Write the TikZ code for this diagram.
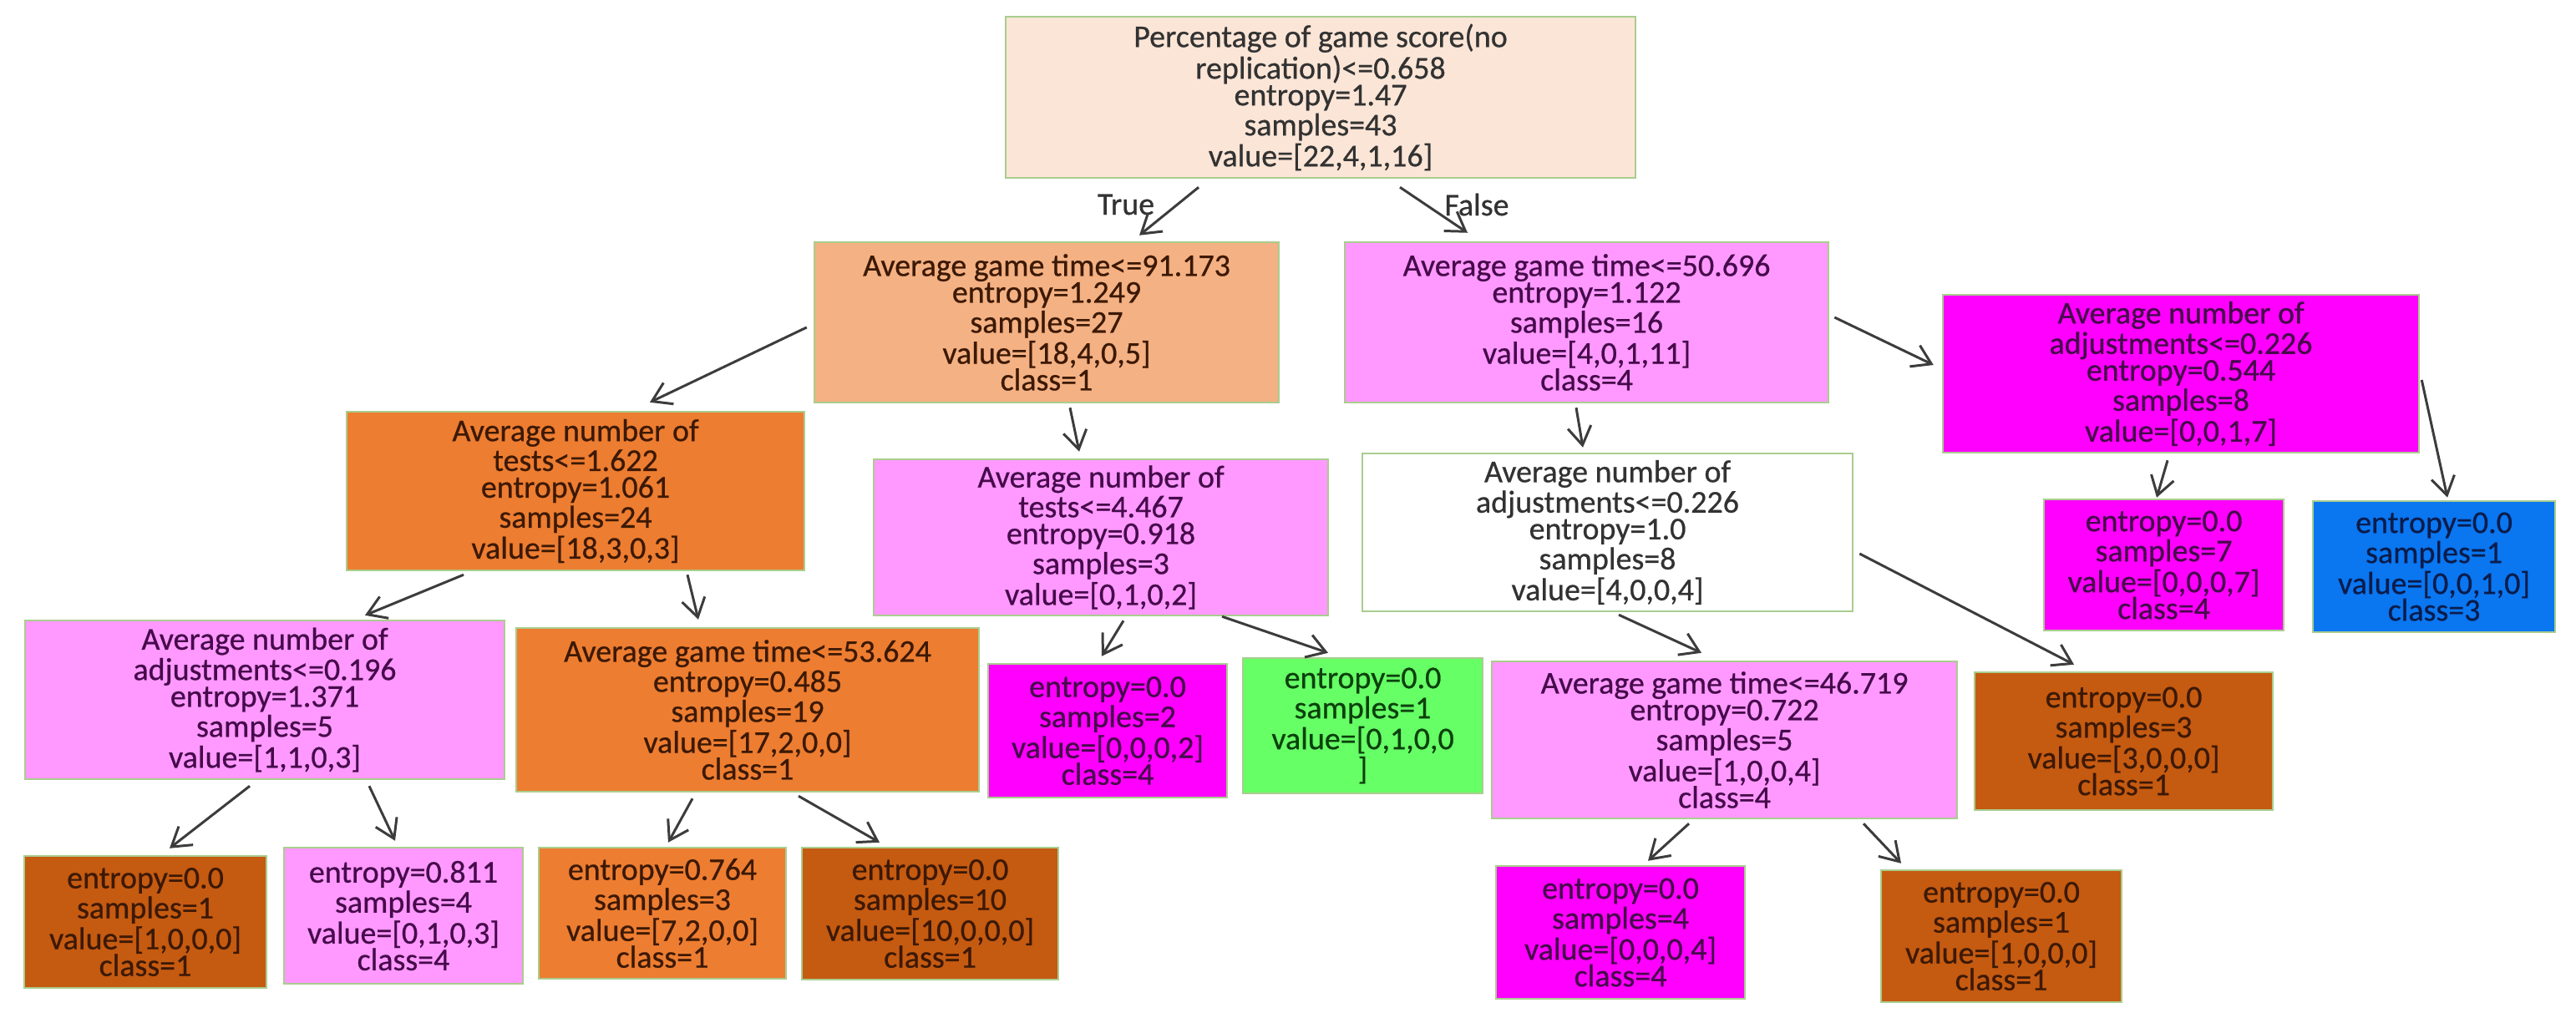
\documentclass[tikz,border=0pt]{standalone}
\usepackage{fontspec}
\setmainfont{Carlito}
\newfontfamily\boxfont{Carlito}[FakeBold=0.6]
\usetikzlibrary{arrows.meta}
\definecolor{bordergreen}{RGB}{169,205,142}
\definecolor{cpeach}{RGB}{251,229,214}
\definecolor{clorange}{RGB}{244,177,131}
\definecolor{corange}{RGB}{237,125,49}
\definecolor{cbrown}{RGB}{197,90,17}
\definecolor{cpink}{RGB}{255,153,255}
\definecolor{cmagenta}{RGB}{255,0,255}
\definecolor{cgreen}{RGB}{102,255,102}
\definecolor{cblue}{RGB}{10,118,240}
\definecolor{tgray}{RGB}{50,50,50}
\definecolor{tbrown}{RGB}{60,25,5}
\definecolor{tpurple}{RGB}{70,10,75}
\definecolor{tgreen}{RGB}{12,65,12}
\definecolor{tnavy}{RGB}{10,28,75}
\definecolor{arrowgray}{RGB}{60,60,60}
\tikzset{
  box/.style={draw=bordergreen, line width=0.7pt, rectangle, inner sep=0pt,
    align=center, font=\boxfont\fontsize{10.8pt}{9.1pt}\selectfont},
  peachbox/.style={box, fill=cpeach, text=tgray},
  lorangebox/.style={box, fill=clorange, text=tbrown},
  orangebox/.style={box, fill=corange, text=tbrown},
  brownbox/.style={box, fill=cbrown, text=tbrown},
  pinkbox/.style={box, fill=cpink, text=tpurple},
  magbox/.style={box, fill=cmagenta, text=tpurple},
  greenbox/.style={box, fill=cgreen, text=tgreen},
  bluebox/.style={box, fill=cblue, text=tnavy},
  whitebox/.style={box, fill=white, text=tgray},
  arr/.style={draw=arrowgray, line width=0.85pt,
    -{Straight Barb[length=2.2mm,width=2.8mm,line width=0.85pt]}},
  lbl/.style={font=\boxfont\fontsize{10.8pt}{9.1pt}\selectfont, text=tgray, inner sep=0pt}
}
\begin{document}
\begin{tikzpicture}
\useasboundingbox[fill=white] (0,0) rectangle (30.84,-12.24);

% level 0
\node[peachbox, minimum width=7.54cm, minimum height=1.93cm] (root) at (15.81,-1.165)
 {Percentage of game score(no\\replication)<=0.658\\entropy=1.47\\samples=43\\value=[22,4,1,16]};

% level 1
\node[lorangebox, minimum width=5.56cm, minimum height=1.92cm] (l1a) at (12.53,-3.86)
 {Average game time<=91.173\\entropy=1.249\\samples=27\\value=[18,4,0,5]\\class=1};
\node[pinkbox, minimum width=5.79cm, minimum height=1.92cm] (l1b) at (18.995,-3.86)
 {Average game time<=50.696\\entropy=1.122\\samples=16\\value=[4,0,1,11]\\class=4};
\node[magbox, minimum width=5.70cm, minimum height=1.89cm] (l1c) at (26.11,-4.475)
 {Average number of\\adjustments<=0.226\\entropy=0.544\\samples=8\\value=[0,0,1,7]};

% level 2
\node[orangebox, minimum width=5.48cm, minimum height=1.90cm] (l2a) at (6.89,-5.88)
 {Average number of\\tests<=1.622\\entropy=1.061\\samples=24\\value=[18,3,0,3]};
\node[pinkbox, minimum width=5.44cm, minimum height=1.87cm] (l2b) at (13.18,-6.435)
 {Average number of\\tests<=4.467\\entropy=0.918\\samples=3\\value=[0,1,0,2]};
\node[whitebox, minimum width=5.87cm, minimum height=1.89cm] (l2c) at (19.245,-6.375)
 {Average number of\\adjustments<=0.226\\entropy=1.0\\samples=8\\value=[4,0,0,4]};
\node[magbox, minimum width=2.87cm, minimum height=1.57cm] (lf7) at (25.905,-6.765)
 {entropy=0.0\\samples=7\\value=[0,0,0,7]\\class=4};
\node[bluebox, minimum width=2.90cm, minimum height=1.57cm] (lfb) at (29.14,-6.785)
 {entropy=0.0\\samples=1\\value=[0,0,1,0]\\class=3};

% level 3
\node[pinkbox, minimum width=5.74cm, minimum height=1.90cm] (l3a) at (3.17,-8.38)
 {Average number of\\adjustments<=0.196\\entropy=1.371\\samples=5\\value=[1,1,0,3]};
\node[orangebox, minimum width=5.54cm, minimum height=1.96cm] (l3b) at (8.95,-8.50)
 {Average game time<=53.624\\entropy=0.485\\samples=19\\value=[17,2,0,0]\\class=1};
\node[magbox, minimum width=2.86cm, minimum height=1.60cm] (lf2) at (13.26,-8.75)
 {entropy=0.0\\samples=2\\value=[0,0,0,2]\\class=4};
\node[greenbox, minimum width=2.87cm, minimum height=1.62cm] (lfg) at (16.315,-8.69)
 {entropy=0.0\\samples=1\\value=[0,1,0,0\\]};
\node[pinkbox, minimum width=5.57cm, minimum height=1.88cm] (l3c) at (20.645,-8.86)
 {Average game time<=46.719\\entropy=0.722\\samples=5\\value=[1,0,0,4]\\class=4};
\node[brownbox, minimum width=3.57cm, minimum height=1.65cm] (lf3) at (25.425,-8.875)
 {entropy=0.0\\samples=3\\value=[3,0,0,0]\\class=1};

% level 4
\node[brownbox, minimum width=2.90cm, minimum height=1.58cm] (lb1) at (1.74,-11.04)
 {entropy=0.0\\samples=1\\value=[1,0,0,0]\\class=1};
\node[pinkbox, minimum width=2.86cm, minimum height=1.63cm] (lp1) at (4.83,-10.965)
 {entropy=0.811\\samples=4\\value=[0,1,0,3]\\class=4};
\node[orangebox, minimum width=2.96cm, minimum height=1.57cm] (lo1) at (7.93,-10.935)
 {entropy=0.764\\samples=3\\value=[7,2,0,0]\\class=1};
\node[brownbox, minimum width=3.07cm, minimum height=1.58cm] (lb2) at (11.135,-10.94)
 {entropy=0.0\\samples=10\\value=[10,0,0,0]\\class=1};
\node[magbox, minimum width=2.98cm, minimum height=1.59cm] (lf4) at (19.40,-11.165)
 {entropy=0.0\\samples=4\\value=[0,0,0,4]\\class=4};
\node[brownbox, minimum width=2.88cm, minimum height=1.58cm] (lb5) at (23.96,-11.21)
 {entropy=0.0\\samples=1\\value=[1,0,0,0]\\class=1};

% labels
\node[lbl] (ltrue) at (13.48,-2.45) {True};
\node[lbl] (lfalse) at (17.68,-2.45) {False};

% connectors
\draw[arr] ([shift={(-1.46,-0.10)}]root.south) -- ([shift={(1.11,0.07)}]l1a.north);
\draw[arr] ([shift={(0.95,-0.10)}]root.south) -- ([shift={(-1.425,0.10)}]l1b.north);
\draw[arr] ([shift={(-0.08,-0.06)}]l1a.west) -- ([shift={(0.89,0.10)}]l2a.north);
\draw[arr] ([shift={(0.28,-0.05)}]l1a.south) -- ([shift={(-0.26,0.08)}]l2b.north);
\draw[arr] ([shift={(-0.125,-0.05)}]l1b.south) -- ([shift={(-0.295,0.06)}]l2c.north);
\draw[arr] ([shift={(0.06,0.06)}]l1b.east) -- ([shift={(-0.10,0.105)}]l1c.west);
\draw[arr] ([shift={(-0.16,-0.08)}]l1c.south) -- ([shift={(-0.085,0.01)}]lf7.north);
\draw[arr] ([shift={(0.02,-0.075)}]l1c.east) -- ([shift={(0.16,0.03)}]lfb.north);
\draw[arr] ([shift={(-1.34,-0.04)}]l2a.south) -- ([shift={(1.20,0.05)}]l3a.north);
\draw[arr] ([shift={(1.34,-0.04)}]l2a.south) -- ([shift={(-0.59,0.09)}]l3b.north);
\draw[arr] ([shift={(0.27,-0.05)}]l2b.south) -- ([shift={(-0.07,0.08)}]lf2.north);
\draw[arr] ([shift={(1.45,0)}]l2b.south) -- ([shift={(-0.415,0.05)}]lfg.north);
\draw[arr] ([shift={(0.135,-0.03)}]l2c.south) -- ([shift={(-0.275,0.09)}]l3c.north);
\draw[arr] ([shift={(0.07,-0.255)}]l2c.east) -- ([shift={(-0.595,0.08)}]lf3.north);
\draw[arr] ([shift={(-0.18,-0.07)}]l3a.south) -- ([shift={(0.29,0.08)}]lb1.north);
\draw[arr] ([shift={(1.25,-0.07)}]l3a.south) -- ([shift={(-0.10,0.07)}]lp1.north);
\draw[arr] ([shift={(-0.66,-0.07)}]l3b.south) -- ([shift={(0.07,0.05)}]lo1.north);
\draw[arr] ([shift={(0.61,-0.04)}]l3b.south) -- ([shift={(-0.605,0.05)}]lb2.north);
\draw[arr] ([shift={(-0.425,-0.05)}]l3c.south) -- ([shift={(0.33,0.05)}]lf4.north);
\draw[arr] ([shift={(1.665,-0.05)}]l3c.south) -- ([shift={(-1.20,0.07)}]lb5.north);
\end{tikzpicture}
\end{document}
